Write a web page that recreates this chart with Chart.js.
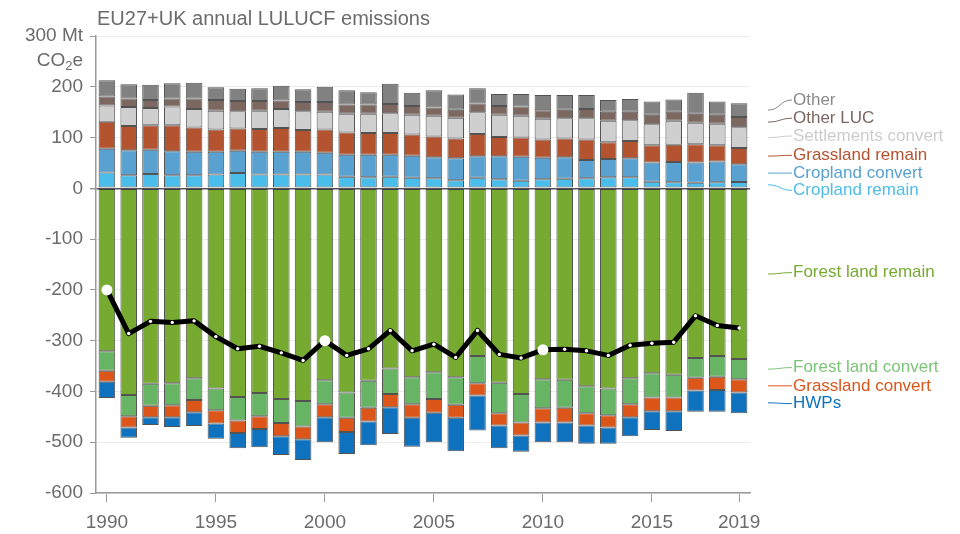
<!DOCTYPE html>
<html>
<head>
<meta charset="utf-8">
<script src="https://cdn.jsdelivr.net/npm/chart.js@4.4.1/dist/chart.umd.min.js"></script>
<style>
  html, body { margin: 0; padding: 0; background: #fff; }
  #wrap { width: 960px; height: 534px; }
</style>
</head>
<body>
<div id="wrap"><canvas id="lulucf"></canvas></div>
<script>
// years on the x axis
const years = [];
for (let y = 1990; y <= 2019; y++) years.push(String(y));

// emissions (positive, Mt CO2e)
const croplandRemain = [31, 26, 28, 26, 26, 27, 30, 27, 27, 27, 27, 23, 22, 23, 21, 20, 16, 21, 18, 15, 18, 19, 20, 22, 22, 13, 12, 11, 12, 12.5];
const croplandConvert = [47, 49, 48, 47, 46, 45, 44, 45, 45, 45, 43, 43, 44, 43, 43, 41, 43, 42, 45, 47, 42, 42, 36, 36, 37, 38, 40, 40, 41, 35];
const grasslandRemain = [53, 48, 48, 51, 48, 44, 44, 45, 47, 43, 46, 44, 43, 43, 42, 41, 39, 44, 38, 38, 36, 37, 40, 33, 34, 34, 34, 36, 32, 32];
const settlementsConvert = [32, 37, 34, 37, 36, 37, 34, 36, 37, 37, 35, 37, 38, 39, 39, 41, 41, 43, 44, 43, 41, 40, 42, 42, 41, 41, 47, 42, 42, 41];
const otherLUC = [18, 17, 16, 16, 21, 21, 20, 19, 17, 18, 19, 18, 18, 18, 17, 16, 16, 17, 17, 18, 17, 17, 18, 18, 17, 19, 18, 18, 18, 20];
const other = [32, 28, 30, 30, 31, 25, 24, 25, 29, 25, 30, 28, 24, 40, 26, 34, 30, 30, 24, 25, 30, 29, 28, 23, 25, 26, 24, 41, 26, 27];

// removals (negative, Mt CO2e)
const forestRemain = [-321, -407, -385, -384, -374, -394, -411, -403, -415, -419, -378, -402, -379, -355, -372, -362, -372, -330, -383, -405, -376, -377, -390, -394, -374, -364, -367, -334, -330, -336];
const forestConvert = [-38, -42, -43, -43, -43, -43, -46, -46, -47, -50, -47, -50, -53, -50, -53, -53, -54, -54, -60, -56, -57, -55, -53, -53, -51, -48, -45, -39, -41, -40];
const grasslandConvert = [-22, -22, -23, -24, -24, -26, -25, -25, -26, -25, -26, -28, -27, -26, -27, -27, -26, -24, -24, -26, -28, -29, -24, -24, -26, -27, -27, -25, -26, -26];
const hwps = [-32, -20, -15, -19, -27, -30, -30, -36, -37, -41, -49, -43, -47, -53, -57, -58, -66, -69, -45, -32, -39, -39, -36, -32, -37, -37, -39, -42, -43, -41];

// net total (black line)
const netTotal = [-200, -286, -262, -264, -261, -292, -316, -311, -324, -339, -300, -329, -316, -280, -320, -307, -333, -280, -327, -334, -318, -317, -320, -329, -309, -305, -303, -251, -270, -275];

const yTicks = [300, 200, 100, 0, -100, -200, -300, -400, -500, -600];
const yearLabels = ['1990', '1995', '2000', '2005', '2010', '2015', '2019'];

const series = [
  { label: 'Cropland remain', data: croplandRemain, color: '#4bbdea', text: '#4dbde9', at: -4 },
  { label: 'Cropland convert', data: croplandConvert, color: '#58a1d1', text: '#58a1d1', at: 30 },
  { label: 'Grassland remain', data: grasslandRemain, color: '#b4532f', text: '#b4532f', at: 65 },
  { label: 'Settlements convert', data: settlementsConvert, color: '#cfcfcf', text: '#cccccc', at: 103 },
  { label: 'Other LUC', data: otherLUC, color: '#7d6861', text: '#7b6660', at: 138 },
  { label: 'Other', data: other, color: '#818181', text: '#8a8a8a', at: 174 },
  { label: 'Forest land remain', data: forestRemain, color: '#77aa31', text: '#76aa30', at: -166 },
  { label: 'Forest land convert', data: forestConvert, color: '#67b464', text: '#7bc478', at: -353 },
  { label: 'Grassland convert', data: grasslandConvert, color: '#dc5519', text: '#dc5519', at: -389 },
  { label: 'HWPs', data: hwps, color: '#0e72bf', text: '#0e72bf', at: -424 }
];

const FONT = "'Liberation Sans', Arial, sans-serif";

// title, CO2e unit and right side labels
const annotate = {
  id: 'annotate',
  afterDraw(chart) {
    const ctx = chart.ctx;
    const area = chart.chartArea;
    const y = chart.scales.y;
    ctx.save();

    ctx.fillStyle = '#6b6b6b';
    ctx.font = '20px ' + FONT;
    ctx.textBaseline = 'middle';
    ctx.textAlign = 'left';
    ctx.fillText('EU27+UK annual LULUCF emissions', area.left + 1, 19);

    // CO2e under "300 Mt"
    const yTop = y.getPixelForValue(300) + 25;
    const right = area.left - 13;
    ctx.font = '19px ' + FONT;
    const wE = ctx.measureText('e').width;
    const wCO = ctx.measureText('CO').width;
    ctx.font = '13px ' + FONT;
    const w2 = ctx.measureText('2').width;
    ctx.fillText('2', right - wE - w2, yTop + 5);
    ctx.font = '19px ' + FONT;
    ctx.fillText('e', right - wE, yTop);
    ctx.fillText('CO', right - wE - w2 - wCO, yTop);

    // labels with connectors from the last bar
    const last = years.length - 1;
    const barRight = area.right - 4;
    ctx.font = '17px ' + FONT;
    series.forEach((s, i) => {
      const meta = chart.getDatasetMeta(i);
      const bar = meta.data[last];
      const midY = (bar.y + bar.base) / 2;
      const ly = y.getPixelForValue(s.at);
      const x0 = barRight + 22, x1 = barRight + 46;
      ctx.strokeStyle = s.text;
      ctx.lineWidth = 1;
      ctx.beginPath();
      ctx.moveTo(x0, midY);
      ctx.bezierCurveTo(x0 + 12, midY, x1 - 12, ly, x1, ly);
      ctx.stroke();
      ctx.fillStyle = s.text;
      ctx.fillText(s.label, x1 + 1, ly);
    });
    ctx.restore();
  }
};

const datasets = series.map(s => ({
  type: 'bar',
  label: s.label,
  data: s.data,
  backgroundColor: s.color,
  borderColor: 'rgba(25,25,25,0.75)',
  borderWidth: 1,
  borderSkipped: false,
  stack: 'luc',
  order: 1,
  barPercentage: 0.76,
  categoryPercentage: 1
}));

datasets.push({
  type: 'line',
  label: 'Net',
  data: netTotal,
  borderColor: '#000',
  borderWidth: 5,
  borderJoinStyle: 'round',
  tension: 0,
  pointRadius: c => (c.dataIndex % 10 === 0 ? 5.5 : 1.7),
  pointBackgroundColor: '#fff',
  pointBorderWidth: 0,
  stack: 'net',
  order: 0
});

new Chart(document.getElementById('lulucf'), {
  data: { labels: years, datasets: datasets },
  options: {
    responsive: true,
    maintainAspectRatio: false,
    animation: false,
    layout: { padding: { left: 0, top: 36, right: 210, bottom: 0 } },
    plugins: { legend: { display: false }, tooltip: { enabled: false } },
    scales: {
      x: {
        stacked: true,
        afterFit: s => { s.height = 41; },
        border: { display: true, color: '#9a9a9a', width: 1.5 },
        grid: {
          drawOnChartArea: false,
          offset: false,
          tickLength: 9,
          color: c => (c.tick && yearLabels.includes(years[c.index]) ? '#9a9a9a' : 'rgba(0,0,0,0)')
        },
        ticks: {
          autoSkip: false,
          maxRotation: 0,
          padding: 9,
          color: '#6b6b6b',
          font: { family: FONT, size: 19 },
          callback: (v, i) => (yearLabels.includes(years[i]) ? years[i] : '')
        }
      },
      y: {
        stacked: true,
        min: -600,
        max: 300,
        afterFit: s => { s.width = 96; },
        afterBuildTicks: s => { s.ticks = yTicks.map(v => ({ value: v })); },
        border: { display: true, color: '#9a9a9a', width: 1.5 },
        grid: {
          color: c => (c.tick && c.tick.value === 0 ? '#555' : '#ececec'),
          lineWidth: c => (c.tick && c.tick.value === 0 ? 1.5 : 1),
          tickColor: '#9a9a9a',
          tickLength: 6
        },
        ticks: {
          padding: 7,
          color: '#6b6b6b',
          font: { family: FONT, size: 19 },
          callback: v => (v === 300 ? '300 Mt' : String(v))
        }
      }
    }
  },
  plugins: [annotate]
});
</script>
</body>
</html>
